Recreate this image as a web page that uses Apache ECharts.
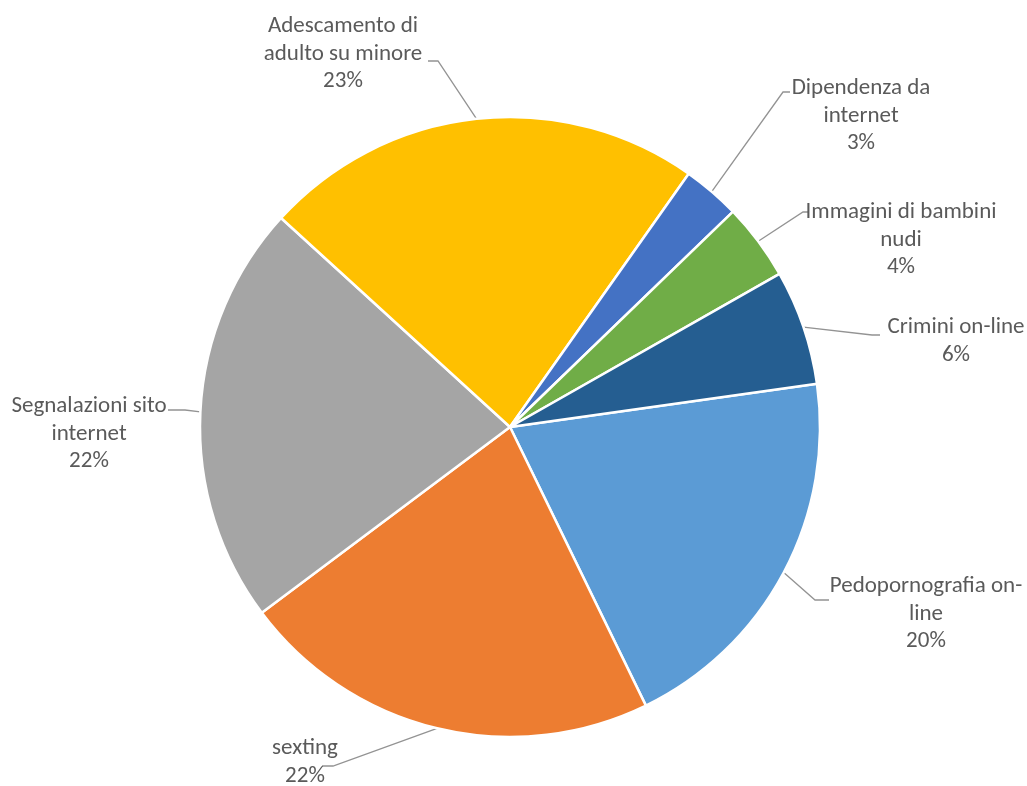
<!DOCTYPE html>
<html>
<head>
<meta charset="utf-8">
<title>Segnalazioni per tipologia</title>
<script src="https://cdn.jsdelivr.net/npm/echarts@6/dist/echarts.min.js"></script>
<style>
  html, body { margin: 0; padding: 0; background: #ffffff; }
  #chart { width: 1027px; height: 786px; }
</style>
</head>
<body>
<div id="chart"></div>
<script>
// Categories (with the line breaks used in the slice labels)
const categories = [
  'Pedopornografia on-\nline',
  'sexting',
  'Segnalazioni sito\ninternet',
  'Adescamento di\nadulto su minore',
  'Dipendenza da\ninternet',
  'Immagini di bambini\nnudi',
  'Crimini on-line'
];
// Share of reports, in percent
const shares = [20, 22, 22, 23, 3, 4, 6];
// Slice colours
const sliceColors = ['#5B9BD5', '#ED7D31', '#A5A5A5', '#FFC000', '#4472C4', '#70AD47', '#255E91'];

// Label placement: text centre, leader-line elbow and end point
const labelSpots = [
  { x: 926, y: 614, elbow: [815, 600], end: [829, 600] },
  { x: 305, y: 762, elbow: [333, 766], end: [322, 766] },
  { x: 89,  y: 434, elbow: [185, 410], end: [168, 410] },
  { x: 343, y: 54,  elbow: [438, 61],  end: [428, 61] },
  { x: 861, y: 116, elbow: [783, 92],  end: [790, 92] },
  { x: 901, y: 240, elbow: [803, 212], end: [808, 212] },
  { x: 956, y: 341, elbow: [872, 335], end: [880, 335] }
];

const chart = echarts.init(document.getElementById('chart'), null, { renderer: 'canvas' });

chart.setOption({
  backgroundColor: '#ffffff',
  animation: false,
  series: [{
    type: 'pie',
    center: [510, 427],
    radius: 310,
    startAngle: 8,
    clockwise: true,
    avoidLabelOverlap: false,
    itemStyle: { borderColor: '#ffffff', borderWidth: 2.5 },
    label: {
      show: true,
      position: 'outside',
      formatter: p => p.name + '\n' + p.value + '%',
      fontFamily: 'Carlito, Calibri, Lato, sans-serif',
      fontSize: 23,
      lineHeight: 27.5,
      color: '#5a5a5a',
      align: 'center'
    },
    labelLine: {
      show: true,
      length: 10,
      length2: 10,
      smooth: false,
      lineStyle: { color: '#939393', width: 1.3 }
    },
    labelLayout: function (params) {
      const s = labelSpots[params.dataIndex];
      const start = params.labelLinePoints ? params.labelLinePoints[0] : s.elbow;
      return {
        x: s.x,
        y: s.y,
        align: 'center',
        verticalAlign: 'middle',
        labelLinePoints: [start, s.elbow, s.end]
      };
    },
    emphasis: { disabled: true },
    data: categories.map((name, i) => ({
      name: name,
      value: shares[i],
      itemStyle: { color: sliceColors[i] }
    }))
  }]
});
</script>
</body>
</html>
